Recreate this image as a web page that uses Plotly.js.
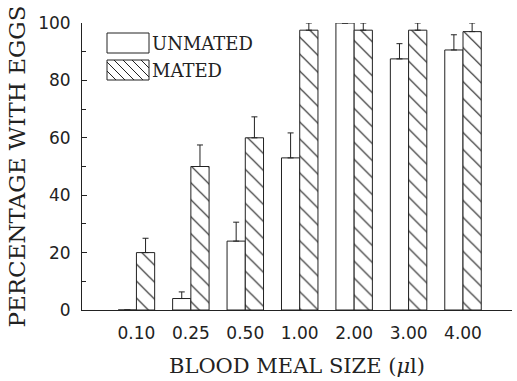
<!DOCTYPE html>
<html>
<head>
<meta charset="utf-8">
<script src="https://cdn.plot.ly/plotly-3.0.1.min.js"></script>
<style>html,body{margin:0;padding:0;background:#fff;}#chart{width:517px;height:381px;}</style>
</head>
<body>
<div id="chart"></div>
<script>
// ---- data ----
const categories = ['0.10', '0.25', '0.50', '1.00', '2.00', '3.00', '4.00'];
const unmatedValues = [0, 4, 24, 53, 100, 87.5, 90.6];
const unmatedErrors = [0, 2.3, 6.6, 8.7, 0, 5.3, 5.3];
const matedValues = [20, 50, 60, 97.5, 97.5, 97.5, 97];
const matedErrors = [5, 7.5, 7.3, 2.5, 2.5, 2.5, 3];
const yTickVals = [0, 20, 40, 60, 80, 100];
const seriesNames = ['UNMATED', 'MATED'];

// ---- layout geometry ----
const W = 517, H = 381;
const M = {l: 82, r: 5, t: 23, b: 71};
const plotW = W - M.l - M.r, plotH = H - M.t - M.b;
const px = x => (x - M.l) / plotW;
const py = y => (H - M.b - y) / plotH;

const ink = '#222';
const zeros = categories.map(() => 0);

const traces = [
  {
    type: 'bar', name: seriesNames[0], x: categories, y: unmatedValues,
    marker: {color: '#fff', line: {color: ink, width: 1}},
    error_y: {type: 'data', symmetric: false, array: unmatedErrors, arrayminus: zeros,
              color: ink, thickness: 1, width: 3},
    showlegend: false, cliponaxis: false
  },
  {
    type: 'bar', name: seriesNames[1], x: categories, y: matedValues,
    marker: {color: '#fff', line: {color: ink, width: 1},
             pattern: {shape: '\\', fgcolor: ink, bgcolor: '#fff', size: 12, solidity: 0.1}},
    error_y: {type: 'data', symmetric: false, array: matedErrors, arrayminus: zeros,
              color: ink, thickness: 1, width: 3},
    showlegend: false, cliponaxis: false
  }
];

// ---- custom legend (swatches + labels) ----
const boxes = [
  {x0: 107, x1: 149, y0: 33, y1: 53, hatch: false},
  {x0: 107, x1: 149, y0: 60, y1: 80, hatch: true}
];
const shapes = [];
const annotations = [];
boxes.forEach((b, i) => {
  shapes.push({type: 'rect', xref: 'paper', yref: 'paper',
    x0: px(b.x0), x1: px(b.x1), y0: py(b.y1), y1: py(b.y0),
    line: {color: ink, width: 1}, fillcolor: '#fff'});
  if (b.hatch) {
    let d = '';
    const h = b.y1 - b.y0;
    for (let c = b.x0 - h; c < b.x1; c += 9) {
      const ya = Math.max(b.y0, b.y0 + (b.x0 - c));
      const yb = Math.min(b.y1, b.y0 + (b.x1 - c));
      if (yb <= ya) continue;
      const xa = c + (ya - b.y0), xb = c + (yb - b.y0);
      d += `M${px(xa)},${py(ya)}L${px(xb)},${py(yb)}`;
    }
    shapes.push({type: 'path', xref: 'paper', yref: 'paper', path: d,
      line: {color: ink, width: 1}});
  }
  annotations.push({xref: 'paper', yref: 'paper', x: px(b.x1 + 1), y: py((b.y0 + b.y1) / 2),
    xanchor: 'left', yanchor: 'middle', showarrow: false, text: seriesNames[i],
    font: {family: 'DejaVu Serif', size: 18, color: ink}});
});

const layout = {
  width: W, height: H,
  margin: M,
  paper_bgcolor: '#fff', plot_bgcolor: '#fff',
  barmode: 'group', bargap: 0.33, bargroupgap: 0,
  showlegend: false,
  xaxis: {
    type: 'category', range: [-1.0, 6.9],
    showline: true, linecolor: ink, linewidth: 1,
    ticks: '', showgrid: false, zeroline: false,
    tickfont: {family: 'DejaVu Sans', size: 17, color: ink},
    ticklabelstandoff: 8,
    title: {text: 'BLOOD MEAL SIZE (<i>μ</i>l)', standoff: 15,
            font: {family: 'DejaVu Serif', size: 21, color: ink}}
  },
  yaxis: {
    range: [0, 100], tickvals: yTickVals,
    showline: true, linecolor: ink, linewidth: 1,
    ticks: 'inside', ticklen: 5, tickcolor: ink,
    minor: {dtick: 10, ticks: 'inside', ticklen: 4, tickcolor: ink},
    showgrid: false, zeroline: false,
    tickfont: {family: 'DejaVu Sans', size: 17, color: ink},
    ticklabelstandoff: 7,
    title: {text: 'PERCENTAGE WITH EGGS', standoff: 6,
            font: {family: 'DejaVu Serif', size: 23, color: ink}}
  },
  shapes: shapes,
  annotations: annotations
};

Plotly.newPlot('chart', traces, layout, {staticPlot: true, displayModeBar: false});
</script>
</body>
</html>
